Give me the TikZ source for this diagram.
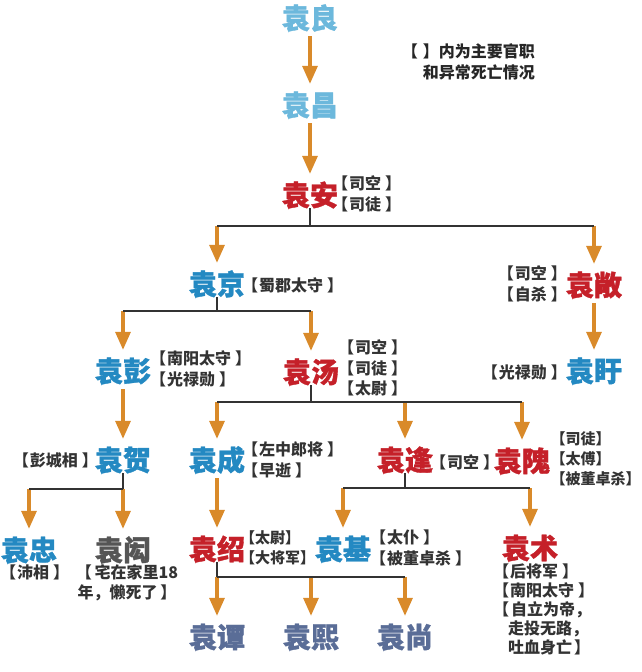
\documentclass[tikz,border=0pt]{standalone}
\usepackage{fontspec}
\newfontfamily\cjk{Noto Sans CJK SC}
\newfontfamily\namefont{Noto Sans CJK SC}[BoldFeatures={FakeBold=1.2}]
\usetikzlibrary{arrows.meta}
\definecolor{lblue}{HTML}{6CB8DC}
\definecolor{mblue}{HTML}{2489C2}
\definecolor{rred}{HTML}{C52029}
\definecolor{ggray}{HTML}{555555}
\definecolor{gblue}{HTML}{5A6D97}
\definecolor{orng}{HTML}{D98A2A}
\definecolor{lnk}{HTML}{333333}
\definecolor{txt}{HTML}{333333}
\newcommand{\brk}[1]{【\kern1pt#1\kern4pt】}
\newcommand{\brt}[1]{【#1】}
\begin{document}
\begin{tikzpicture}[x=1pt,y=-1pt,
  nm/.style={font=\namefont\bfseries\fontsize{28}{28}\selectfont, inner sep=0pt, text height=23.6pt, text depth=2.4pt},
  lb/.style={font=\cjk\bfseries\fontsize{16}{20.5}\selectfont, text=txt, inner sep=0pt, align=left},
  lbs/.style={lb, font=\cjk\bfseries\fontsize{15}{20}\selectfont},
  arr/.style={draw=orng, line width=3.2pt, -{Triangle[width=15pt,length=18pt]}, shorten >=8pt},
  arrs/.style={arr, shorten <=5pt},
  conn/.style={draw=lnk, line width=1.8pt},
]
\fill[white] (0,0) rectangle (641,672);
\useasboundingbox (0,0) rectangle (641,672);

% names
\node[nm, text=lblue] (liang) at (310,18) {袁良};
\node[nm, text=lblue] (chang) at (310,105) {袁昌};
\node[nm, text=rred] (an) at (310,195) {袁安};
\node[nm, text=mblue] (jing) at (217,284) {袁京};
\node[nm, text=rred] (chang2) at (594,285) {袁敞};
\node[nm, text=mblue] (peng) at (123,371) {袁彭};
\node[nm, text=rred] (tang) at (311,372) {袁汤};
\node[nm, text=mblue] (xu) at (594,371) {袁盱};
\node[nm, text=mblue] (he) at (123,460) {袁贺};
\node[nm, text=mblue] (cheng) at (217,460) {袁成};
\node[nm, text=rred] (feng) at (405,460) {袁逢};
\node[nm, text=rred] (wei) at (522,461) {袁隗};
\node[nm, text=mblue] (zhong) at (29,550) {袁忠};
\node[nm, text=ggray] (hong) at (123,550) {袁闳};
\node[nm, text=rred] (shao) at (217,549) {袁绍};
\node[nm, text=mblue] (ji) at (343,549) {袁基};
\node[nm, text=rred] (shu) at (530,548) {袁术};
\node[nm, text=gblue] (tan) at (217,637) {袁谭};
\node[nm, text=gblue] (xi) at (311,637) {袁熙};
\node[nm, text=gblue] (shang) at (405,637) {袁尚};

% legend
\node[font=\cjk\bfseries\fontsize{16}{21}\selectfont, text=black!85, align=right, anchor=east, inner sep=0pt] (legend) at (535,62) {【\hspace{5pt}】内为主要官职\\和异常死亡情况};

% labels
\node[lb, anchor=west] (anl) at (332,194) {\brk{司空}\\\brk{司徒}};
\node[lb, anchor=west] (jingl) at (242,285) {\brk{蜀郡太守}};
\node[lb, anchor=east] (chang2l) at (567,284) {\brk{司空}\\\brk{自杀}};
\node[lb, anchor=west] (pengl) at (150,369) {\brk{南阳太守}\\\brk{光禄勋}};
\node[lb, anchor=west] (tangl) at (338,368) {\brk{司空}\\\brk{司徒}\\\brk{太尉}};
\node[lb, anchor=east] (xul) at (567,372) {\brk{光禄勋}};
\node[lb, anchor=east] (hel) at (98,460) {\brk{彭城相}};
\node[lb, anchor=west] (chengl) at (242,460) {\brk{左中郎将}\\\brk{早逝}};
\node[lb, anchor=west] (fengl) at (430,462) {\brk{司空}};
\node[lbs, anchor=west] (weil) at (550.5,459) {\brt{司徒}\\\brt{太傅}\\\brt{被董卓杀}};
\node[lb, anchor=west] (zhongl) at (0,572) {\brk{沛相}};
\node[lb, align=center] (hongl) at (127,583) {【\kern3pt宅在家里18\\年，懒死了\kern3pt】};
\node[lbs, anchor=west] (shaol) at (240,548) {\brt{太尉}\\\brt{大将军}};
\node[lb, anchor=west] (jil) at (370,548) {\brk{太仆}\\\brk{被董卓杀}};
\node[lb, anchor=north west, font=\cjk\bfseries\fontsize{16}{19}\selectfont] (shul) at (493,564) {\brk{后将军}\\\brk{南阳太守}\\【\kern2pt自立为帝，\\\hspace*{15pt}走投无路，\\\hspace*{15pt}吐血身亡\kern2pt】};

% junctions
\coordinate (jA) at (an |- 0,226);
\coordinate (jJ) at (jing |- 0,311);
\coordinate (jT) at (tang |- 0,402);
\coordinate (jH) at (he |- 0,489);
\coordinate (jF) at (feng |- 0,488);
\coordinate (jS) at (shao |- 0,577);

% orange arrows
\draw[arrs] (liang.south) -- (chang.north);
\draw[arrs] (chang.south) -- (an.north);
\draw[arr] (jA -| jing) -- (jing.north);
\draw[arr] (jA -| chang2) -- (chang2.north);
\draw[arr] (jJ -| peng) -- (peng.north);
\draw[arr] (jJ -| tang) -- (tang.north);
\draw[arrs] (chang2.south) -- (xu.north);
\draw[arrs] (peng.south) -- (he.north);
\draw[arr] (jT -| cheng) -- (cheng.north);
\draw[arr] (jT -| feng) -- (feng.north);
\draw[arr] (jT -| wei) -- (wei.north);
\draw[arr] (jH -| zhong) -- (zhong.north);
\draw[arr] (jH -| hong) -- (hong.north);
\draw[arrs] (cheng.south) -- (shao.north);
\draw[arr] (jF -| ji) -- (ji.north);
\draw[arr] (jF -| shu) -- (shu.north);
\draw[arr] (jS -| tan) -- (tan.north);
\draw[arr] (jS -| xi) -- (xi.north);
\draw[arr] (jS -| shang) -- (shang.north);

% black connectors
\draw[conn] (an.south) -- (jA);
\draw[conn] (jA -| jing) -- (jA -| chang2);
\draw[conn] (jing.south) -- (jJ);
\draw[conn] (jJ -| peng) -- (jJ -| tang);
\draw[conn] (tang.south) -- (jT);
\draw[conn] (jT -| cheng) -- (jT -| wei);
\draw[conn] (he.south) -- (jH);
\draw[conn] (jH -| zhong) -- (jH -| hong);
\draw[conn] (feng.south) -- (jF);
\draw[conn] (jF -| ji) -- (jF -| shu);
\draw[conn] (shao.south) -- (jS);
\draw[conn] (jS -| tan) -- (jS -| shang);
\end{tikzpicture}
\end{document}
